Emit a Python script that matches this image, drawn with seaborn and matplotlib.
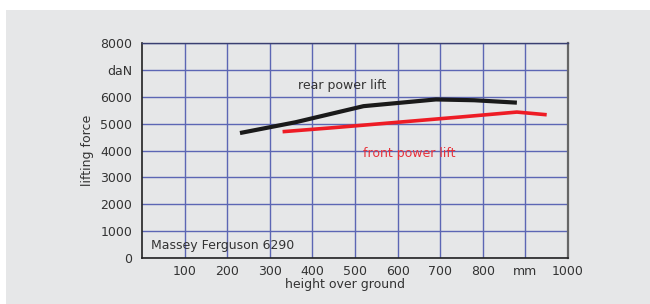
import matplotlib
matplotlib.use("Agg")
import matplotlib.pyplot as plt
import seaborn as sns
import pandas as pd
from matplotlib.patches import Rectangle

# values (height mm -> lifting force daN)
rear_height = [230, 360, 520, 690, 780, 880]
rear_force = [4650, 5050, 5650, 5900, 5870, 5780]
front_height = [330, 450, 600, 750, 880, 950]
front_force = [4700, 4850, 5050, 5250, 5430, 5330]

x_ticks = [100, 200, 300, 400, 500, 600, 700, 800, 900, 1000]
x_tick_labels = ["100", "200", "300", "400", "500", "600", "700", "800", "mm", "1000"]
y_ticks = [0, 1000, 2000, 3000, 4000, 5000, 6000, 7000, 8000]
y_tick_labels = ["0", "1000", "2000", "3000", "4000", "5000", "6000", "daN", "8000"]

BG = "#e6e7e8"
GRID = "#5c66b4"
TEXT = "#333333"

sns.set_theme(style="white")
# DejaVu is wide enough to match the letter-spaced Helvetica of the original
plt.rcParams["font.family"] = ["DejaVu Sans"]

fig = plt.figure(figsize=(6.5, 3.04), dpi=100, facecolor="white")
# grey panel, leaving the thin white strip at top/left as in the reference
fig.patches.append(Rectangle((6 / 650, 0), 1, 1 - 10 / 304, transform=fig.transFigure,
                             facecolor=BG, edgecolor="none", zorder=-10))
ax = fig.add_axes([142 / 650, 1 - 258 / 304, (568 - 142) / 650, (258 - 43) / 304])
ax.set_facecolor(BG)

rear = pd.DataFrame({"height": rear_height, "force": rear_force})
front = pd.DataFrame({"height": front_height, "force": front_force})
sns.lineplot(data=rear, x="height", y="force", ax=ax, color="#1a1a1a", linewidth=3.0,
             solid_capstyle="butt", zorder=3)
sns.lineplot(data=front, x="height", y="force", ax=ax, color="#ee1c25", linewidth=2.6,
             solid_capstyle="butt", zorder=3)

ax.set_xlim(0, 1000)
ax.set_ylim(0, 8000)
ax.set_xticks(x_ticks)
ax.set_xticklabels(x_tick_labels)
ax.set_yticks(y_ticks)
ax.set_yticklabels(y_tick_labels)
ax.tick_params(axis="both", length=0, labelsize=9, colors=TEXT)
ax.tick_params(axis="y", pad=7)
ax.tick_params(axis="x", pad=5)
ax.grid(True, color=GRID, linewidth=1.0)
ax.set_axisbelow(True)

for side in ["left", "bottom"]:
    ax.spines[side].set_color("#222222")
    ax.spines[side].set_linewidth(1.2)
ax.spines["top"].set_color("#3a3f70")
ax.spines["top"].set_linewidth(1.0)
ax.spines["right"].set_color("#666666")
ax.spines["right"].set_linewidth(1.6)

ax.set_xlabel("height over ground", fontsize=9, color=TEXT)
ax.set_ylabel("lifting force", fontsize=9, color=TEXT)
# label centres measured from the reference, not the axes middle
ax.xaxis.set_label_coords(0.477, -0.095)
ax.yaxis.set_label_coords(-0.113, 0.5)

ax.text(367, 6400, "rear power lift", fontsize=9, color=TEXT, va="center")
ax.text(518, 3900, "front power lift", fontsize=9, color="#e8323a", va="center")
ax.text(20, 480, "Massey Ferguson 6290", fontsize=9, color=TEXT, va="center")

fig.savefig("out.png", dpi=100, facecolor=fig.get_facecolor())
